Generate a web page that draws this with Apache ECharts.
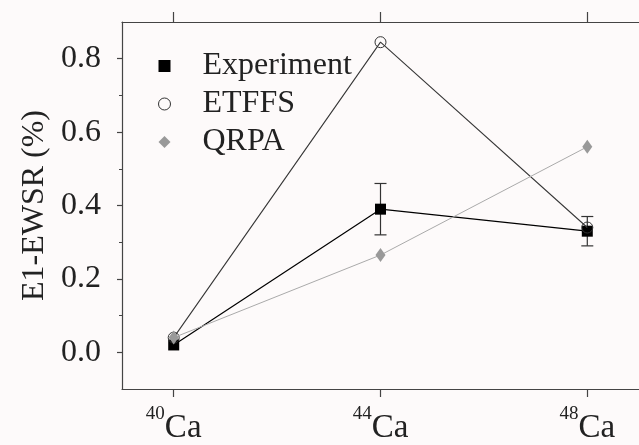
<!DOCTYPE html>
<html>
<head>
<meta charset="utf-8">
<script src="https://cdn.jsdelivr.net/npm/echarts@6/dist/echarts.min.js"></script>
<style>
html,body{margin:0;padding:0;background:#fdfafa;}
#c{width:639px;height:445px;}
</style>
</head>
<body>
<div id="c"></div>
<script>
const massNumbers = [40, 44, 48];
const experiment = [0.02, 0.39, 0.33];
const experimentErr = [0, 0.07, 0.04];
const etffs = [0.04, 0.845, 0.34];
const qrpa = [0.04, 0.265, 0.56];
const yMajorTicks = [0, 0.2, 0.4, 0.6, 0.8];
const yMinorTicks = [0.1, 0.3, 0.5, 0.7];
const seriesNames = ['Experiment', 'ETFFS', 'QRPA'];

const serif = 'Liberation Serif';
const axisColor = '#444';
const textColor = '#222';

const pairs = arr => massNumbers.map((m, i) => [m, arr[i]]);
const errData = massNumbers.map((m, i) => [m, experiment[i] - experimentErr[i], experiment[i] + experimentErr[i]]).filter((d, i) => experimentErr[i] > 0);

const chart = echarts.init(document.getElementById('c'), null, {renderer: 'canvas'});
chart.setOption({
  backgroundColor: '#fdfafa',
  animation: false,
  grid: {left: 122, top: 22, width: 522, height: 369, containLabel: false},
  legend: {
    orient: 'vertical',
    left: 153, top: 45,
    itemWidth: 12, itemHeight: 12, itemGap: 6,
    formatter: n => '{t|' + n + '}',
    textStyle: {
      rich: {t: {fontFamily: serif, fontSize: 32, color: textColor, padding: [0, 0, 0, 27]}}
    },
    data: [
      {name: seriesNames[0], icon: 'rect', itemStyle: {color: '#000'}},
      {name: seriesNames[1], icon: 'circle', itemStyle: {color: 'rgba(0,0,0,0)', borderColor: '#333', borderWidth: 1}},
      {name: seriesNames[2], icon: 'diamond', itemStyle: {color: '#999'}}
    ]
  },
  xAxis: [
    {
      type: 'value', min: 39, max: 49, position: 'bottom',
      axisLine: {show: true, onZero: false, lineStyle: {color: axisColor, width: 1.2}},
      axisTick: {show: true, inside: false, length: 8, customValues: massNumbers, lineStyle: {color: axisColor, width: 1.2}},
      splitLine: {show: false},
      axisLabel: {
        customValues: massNumbers, margin: 16,
        formatter: v => '{s|' + v + '}{c|Ca}',
        rich: {
          s: {fontFamily: serif, fontSize: 19, color: textColor, verticalAlign: 'top', lineHeight: 16},
          c: {fontFamily: serif, fontSize: 33, color: textColor, lineHeight: 40, verticalAlign: 'bottom'}
        }
      }
    },
    {
      type: 'value', min: 39, max: 49, position: 'top',
      axisLine: {show: true, onZero: false, lineStyle: {color: axisColor, width: 1.2}},
      axisTick: {show: true, inside: false, length: 10, customValues: massNumbers, lineStyle: {color: axisColor, width: 1.2}},
      splitLine: {show: false},
      axisLabel: {show: false}
    }
  ],
  yAxis: [
    {
      type: 'value', min: -0.1, max: 0.9, position: 'left',
      name: 'E1-EWSR (%)', nameLocation: 'middle', nameGap: 68, nameRotate: 90,
      nameTextStyle: {fontFamily: serif, fontSize: 32, color: textColor},
      axisLine: {show: true, onZero: false, lineStyle: {color: axisColor, width: 1.2}},
      axisTick: {show: true, inside: false, length: 5, customValues: yMajorTicks, lineStyle: {color: axisColor, width: 1.2}},
      splitLine: {show: false},
      axisLabel: {customValues: yMajorTicks, margin: 21, formatter: v => v.toFixed(1), fontFamily: serif, fontSize: 32, color: textColor}
    },
    {
      type: 'value', min: -0.1, max: 0.9, position: 'left', offset: 0,
      axisLine: {show: false, onZero: false},
      axisTick: {show: true, inside: false, length: 3, customValues: yMinorTicks, lineStyle: {color: axisColor, width: 1}},
      splitLine: {show: false},
      axisLabel: {show: false}
    }
  ],
  series: [
    {
      type: 'custom', name: 'err', xAxisIndex: 0, yAxisIndex: 0, z: 1,
      data: errData,
      renderItem: (params, api) => {
        const x = api.value(0);
        const lo = api.coord([x, api.value(1)]);
        const hi = api.coord([x, api.value(2)]);
        const w = 6;
        const st = {stroke: '#333', lineWidth: 1.2};
        return {type: 'group', children: [
          {type: 'line', shape: {x1: lo[0], y1: lo[1], x2: hi[0], y2: hi[1]}, style: st},
          {type: 'line', shape: {x1: lo[0] - w, y1: lo[1], x2: lo[0] + w, y2: lo[1]}, style: st},
          {type: 'line', shape: {x1: hi[0] - w, y1: hi[1], x2: hi[0] + w, y2: hi[1]}, style: st}
        ]};
      }
    },
    {
      type: 'line', name: seriesNames[0], data: pairs(experiment), z: 2,
      symbol: 'rect', symbolSize: 11,
      itemStyle: {color: '#000'},
      lineStyle: {color: '#000', width: 1.2}
    },
    {
      type: 'line', name: seriesNames[1], data: pairs(etffs), z: 3,
      symbol: 'circle', symbolSize: 11,
      itemStyle: {color: 'rgba(0,0,0,0)', borderColor: '#333', borderWidth: 1},
      lineStyle: {color: '#383838', width: 1.1}
    },
    {
      type: 'line', name: seriesNames[2], data: pairs(qrpa), z: 4,
      symbol: 'diamond', symbolSize: [10, 14],
      itemStyle: {color: '#999'},
      lineStyle: {color: '#aaa', width: 1}
    }
  ]
});
</script>
</body>
</html>
